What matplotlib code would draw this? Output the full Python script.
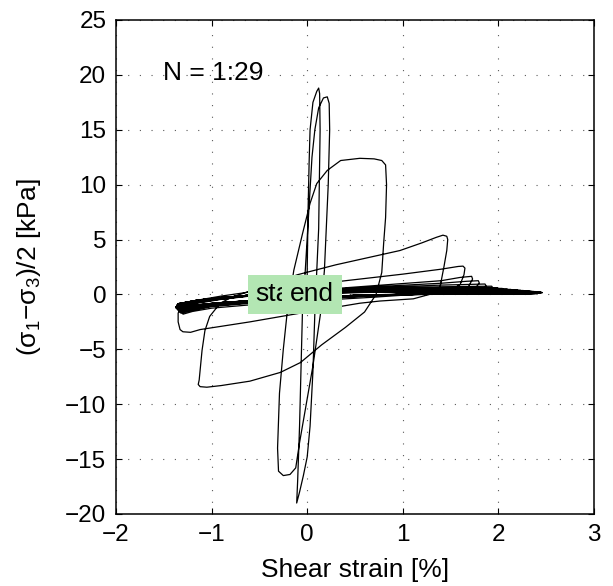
import matplotlib
matplotlib.use("Agg")
import matplotlib.pyplot as plt
import numpy as np

plt.rcParams['font.family'] = ['Liberation Sans', 'DejaVu Sans']
plt.rcParams['mathtext.fontset'] = 'custom'
plt.rcParams['mathtext.rm'] = 'Liberation Sans'
plt.rcParams['mathtext.it'] = 'Liberation Sans'
plt.rcParams['mathtext.bf'] = 'Liberation Sans'

# ---------------- data ----------------
x_ticks = [-2, -1, 0, 1, 2, 3]
y_ticks = [-20, -15, -10, -5, 0, 5, 10, 15, 20, 25]

# early stiff cycles
c01_strain = [0.00, 0.00, 0.01, 0.02, 0.03, 0.06, 0.10, 0.12, 0.13, 0.135, 0.13, 0.12, 0.10, 0.08, 0.06, 0.03, 0.00, -0.04, -0.08, -0.11]
c01_stress = [0.0, 2.2, 8.0, 12.0, 15.0, 17.5, 18.5, 18.8, 18.3, 15.0, 12.0, 6.0, 2.2, -1.7, -7.0, -12.0, -14.8, -16.5, -18.0, -19.0]
c02_strain = [-0.11, -0.10, -0.08, -0.06, -0.05, -0.02, 0.02, 0.05, 0.08, 0.12, 0.17, 0.21, 0.23, 0.235, 0.22, 0.19, 0.18, 0.14, 0.06, -0.02, -0.08, -0.12, -0.18, -0.25, -0.30]
c02_stress = [-19.0, -17.0, -12.0, -5.0, -1.7, 2.2, 8.0, 12.5, 15.0, 17.0, 17.9, 18.0, 17.4, 15.0, 10.0, 4.0, 2.2, -1.7, -6.5, -10.5, -13.5, -15.8, -16.4, -16.5, -16.1]
c03_strain = [-0.30, -0.31, -0.29, -0.25, -0.21, -0.14, -0.05, 0.03, 0.10, 0.21, 0.35, 0.55, 0.70, 0.78, 0.82, 0.83, 0.82, 0.80, 0.78, 0.72, 0.60, 0.40, 0.15, -0.07, -0.28, -0.60, -0.90, -1.05, -1.12]
c03_stress = [-16.1, -14.0, -9.0, -5.0, -1.7, 2.2, 5.5, 8.3, 10.1, 11.3, 12.2, 12.4, 12.35, 12.2, 11.8, 10.0, 7.0, 4.7, 2.0, 0.0, -1.6, -3.0, -4.6, -6.2, -7.1, -7.9, -8.3, -8.45, -8.4]
c04_strain = [-1.12, -1.14, -1.13, -1.10, -1.07, -1.02, -0.91, -0.80, -0.67, -0.40, -0.10, 0.30, 0.97, 1.20, 1.35, 1.42, 1.46, 1.47, 1.46, 1.43, 1.39, 1.32, 1.11, 0.76, 0.55, -0.07, -0.60, -1.12, -1.22, -1.30, -1.33]
c04_stress = [-8.4, -8.2, -7.8, -5.1, -3.3, -2.0, -0.8, -0.3, 0.1, 0.9, 1.8, 2.7, 4.0, 4.7, 5.2, 5.4, 5.3, 5.0, 4.0, 2.5, 0.7, 0.1, -0.4, -0.6, -0.8, -1.7, -2.5, -3.2, -3.45, -3.4, -3.2]
c05_strain = [-1.33, -1.35, -1.35, -1.31, -1.20, -0.90, -0.50, 0.00, 0.50, 1.00, 1.40, 1.58, 1.63, 1.65, 1.64, 1.60, 1.50, 1.20, 0.70, 0.00, -0.60, -1.00, -1.20, -1.30]
c05_stress = [-3.2, -2.5, -1.7, -1.0, -0.6, -0.15, 0.35, 0.85, 1.35, 1.85, 2.3, 2.55, 2.58, 2.4, 1.8, 0.9, 0.4, 0.05, -0.25, -0.6, -0.95, -1.25, -1.55, -1.80]

# later cycles (liquefied state)
c06_strain = [-1.30, -1.28, -1.15, -0.90, -0.50, 0.00, 0.70, 1.40, 1.60, 1.72, 1.73, 1.68, 1.40, 0.70, 0.00, -0.60, -1.00, -1.22]
c06_stress = [-1.80, -1.30, -0.80, -0.45, -0.05, 0.35, 0.80, 1.25, 1.55, 1.65, 1.40, 0.60, 0.20, -0.12, -0.45, -0.80, -1.10, -1.48]
c07_strain = [-1.32, -1.30, -1.15, -0.90, -0.50, 0.00, 0.70, 1.40, 1.67, 1.79, 1.80, 1.75, 1.40, 0.70, 0.00, -0.60, -1.00, -1.22]
c07_stress = [-1.72, -1.25, -0.75, -0.42, -0.03, 0.32, 0.70, 1.02, 1.20, 1.25, 1.05, 0.45, 0.15, -0.10, -0.42, -0.76, -1.06, -1.44]
c08_strain = [-1.33, -1.31, -1.15, -0.90, -0.50, 0.00, 0.70, 1.40, 1.74, 1.86, 1.87, 1.82, 1.40, 0.70, 0.00, -0.60, -1.00, -1.22]
c08_stress = [-1.65, -1.20, -0.72, -0.40, -0.02, 0.30, 0.62, 0.85, 0.93, 0.95, 0.80, 0.35, 0.12, -0.08, -0.40, -0.74, -1.03, -1.40]
c09_strain = [-1.33, -1.31, -1.15, -0.90, -0.50, 0.00, 0.70, 1.40, 1.81, 1.93, 1.94, 1.88, 1.40, 0.70, 0.00, -0.60, -1.00, -1.22]
c09_stress = [-1.60, -1.15, -0.70, -0.38, -0.01, 0.28, 0.56, 0.70, 0.74, 0.75, 0.62, 0.28, 0.10, -0.07, -0.38, -0.72, -1.00, -1.36]
c10_strain = [-1.34, -1.32, -1.15, -0.90, -0.50, 0.00, 0.70, 1.40, 1.87, 1.99, 2.00, 1.94, 1.40, 0.70, 0.00, -0.60, -1.00, -1.22]
c10_stress = [-1.55, -1.10, -0.68, -0.37, 0.00, 0.27, 0.50, 0.60, 0.62, 0.62, 0.52, 0.24, 0.08, -0.06, -0.36, -0.70, -0.98, -1.32]
c11_strain = [-1.34, -1.32, -1.15, -0.90, -0.50, 0.00, 0.70, 1.40, 1.92, 2.04, 2.05, 1.99, 1.40, 0.70, 0.00, -0.60, -1.00, -1.22]
c11_stress = [-1.50, -1.06, -0.66, -0.36, 0.00, 0.25, 0.46, 0.54, 0.55, 0.55, 0.46, 0.21, 0.07, -0.06, -0.35, -0.68, -0.96, -1.29]
c12_strain = [-1.35, -1.33, -1.15, -0.90, -0.50, 0.00, 0.70, 1.40, 1.97, 2.09, 2.10, 2.04, 1.40, 0.70, 0.00, -0.60, -1.00, -1.22]
c12_stress = [-1.45, -1.03, -0.64, -0.35, 0.00, 0.24, 0.43, 0.49, 0.50, 0.50, 0.42, 0.19, 0.06, -0.05, -0.34, -0.67, -0.94, -1.26]
c13_strain = [-1.35, -1.33, -1.15, -0.90, -0.50, 0.00, 0.70, 1.40, 2.01, 2.13, 2.14, 2.08, 1.40, 0.70, 0.00, -0.60, -1.00, -1.22]
c13_stress = [-1.42, -1.00, -0.62, -0.34, 0.00, 0.23, 0.40, 0.45, 0.46, 0.46, 0.39, 0.17, 0.05, -0.05, -0.33, -0.66, -0.93, -1.23]
c14_strain = [-1.35, -1.33, -1.15, -0.90, -0.50, 0.00, 0.70, 1.40, 2.05, 2.17, 2.18, 2.12, 1.40, 0.70, 0.00, -0.60, -1.00, -1.22]
c14_stress = [-1.38, -0.98, -0.61, -0.33, 0.00, 0.22, 0.38, 0.42, 0.42, 0.42, 0.36, 0.16, 0.05, -0.04, -0.32, -0.65, -0.92, -1.21]
c15_strain = [-1.36, -1.34, -1.15, -0.90, -0.50, 0.00, 0.70, 1.40, 2.08, 2.20, 2.21, 2.15, 1.40, 0.70, 0.00, -0.60, -1.00, -1.22]
c15_stress = [-1.35, -0.96, -0.60, -0.33, 0.00, 0.21, 0.36, 0.40, 0.40, 0.40, 0.34, 0.15, 0.04, -0.04, -0.31, -0.64, -0.91, -1.19]
c16_strain = [-1.36, -1.34, -1.15, -0.90, -0.50, 0.00, 0.70, 1.40, 2.11, 2.23, 2.24, 2.18, 1.40, 0.70, 0.00, -0.60, -1.00, -1.22]
c16_stress = [-1.32, -0.94, -0.59, -0.32, 0.00, 0.20, 0.34, 0.38, 0.38, 0.38, 0.32, 0.14, 0.04, -0.04, -0.30, -0.63, -0.90, -1.17]
c17_strain = [-1.36, -1.34, -1.15, -0.90, -0.50, 0.00, 0.70, 1.40, 2.14, 2.26, 2.27, 2.21, 1.40, 0.70, 0.00, -0.60, -1.00, -1.22]
c17_stress = [-1.30, -0.93, -0.58, -0.32, 0.00, 0.19, 0.32, 0.36, 0.36, 0.36, 0.30, 0.13, 0.03, -0.04, -0.30, -0.62, -0.89, -1.15]
c18_strain = [-1.36, -1.34, -1.15, -0.90, -0.50, 0.00, 0.70, 1.40, 2.17, 2.29, 2.30, 2.24, 1.40, 0.70, 0.00, -0.60, -1.00, -1.22]
c18_stress = [-1.28, -0.92, -0.57, -0.31, 0.00, 0.18, 0.30, 0.34, 0.34, 0.34, 0.28, 0.12, 0.03, -0.03, -0.29, -0.61, -0.88, -1.13]
c19_strain = [-1.37, -1.35, -1.15, -0.90, -0.50, 0.00, 0.70, 1.40, 2.19, 2.31, 2.32, 2.26, 1.40, 0.70, 0.00, -0.60, -1.00, -1.22]
c19_stress = [-1.26, -0.91, -0.56, -0.31, 0.00, 0.17, 0.29, 0.32, 0.32, 0.32, 0.27, 0.12, 0.03, -0.03, -0.29, -0.60, -0.87, -1.11]
c20_strain = [-1.37, -1.35, -1.15, -0.90, -0.50, 0.00, 0.70, 1.40, 2.21, 2.33, 2.34, 2.28, 1.40, 0.70, 0.00, -0.60, -1.00, -1.22]
c20_stress = [-1.24, -0.90, -0.56, -0.31, 0.00, 0.17, 0.28, 0.30, 0.30, 0.30, 0.25, 0.11, 0.03, -0.03, -0.28, -0.60, -0.86, -1.10]
c21_strain = [-1.37, -1.35, -1.15, -0.90, -0.50, 0.00, 0.70, 1.40, 2.23, 2.35, 2.36, 2.30, 1.40, 0.70, 0.00, -0.60, -1.00, -1.22]
c21_stress = [-1.22, -0.89, -0.55, -0.30, 0.00, 0.16, 0.26, 0.28, 0.28, 0.28, 0.24, 0.11, 0.02, -0.03, -0.28, -0.59, -0.85, -1.08]
c22_strain = [-1.37, -1.35, -1.15, -0.90, -0.50, 0.00, 0.70, 1.40, 2.25, 2.37, 2.38, 2.32, 1.40, 0.70, 0.00, -0.60, -1.00, -1.22]
c22_stress = [-1.20, -0.88, -0.55, -0.30, 0.00, 0.16, 0.25, 0.27, 0.27, 0.27, 0.23, 0.10, 0.02, -0.03, -0.27, -0.58, -0.84, -1.07]
c23_strain = [-1.37, -1.35, -1.15, -0.90, -0.50, 0.00, 0.70, 1.40, 2.27, 2.39, 2.40, 2.34, 1.40, 0.70, 0.00, -0.60, -1.00, -1.22]
c23_stress = [-1.18, -0.87, -0.54, -0.30, 0.00, 0.15, 0.24, 0.26, 0.26, 0.26, 0.22, 0.10, 0.02, -0.03, -0.27, -0.58, -0.84, -1.06]
c24_strain = [-1.37, -1.35, -1.15, -0.90, -0.50, 0.00, 0.70, 1.40, 2.28, 2.40, 2.41, 2.35, 1.40, 0.70, 0.00, -0.60, -1.00, -1.22]
c24_stress = [-1.16, -0.86, -0.54, -0.29, 0.00, 0.15, 0.23, 0.25, 0.25, 0.25, 0.21, 0.09, 0.02, -0.03, -0.26, -0.57, -0.83, -1.05]
c25_strain = [-1.37, -1.35, -1.15, -0.90, -0.50, 0.00, 0.70, 1.40, 2.29, 2.41, 2.42, 2.36, 1.40, 0.70, 0.00, -0.60, -1.00, -1.22]
c25_stress = [-1.15, -0.86, -0.53, -0.29, 0.00, 0.14, 0.22, 0.24, 0.24, 0.24, 0.20, 0.09, 0.02, -0.02, -0.26, -0.57, -0.83, -1.04]
c26_strain = [-1.37, -1.35, -1.15, -0.90, -0.50, 0.00, 0.70, 1.40, 2.30, 2.42, 2.43, 2.37, 1.40, 0.70, 0.00, -0.60, -1.00, -1.22]
c26_stress = [-1.14, -0.85, -0.53, -0.29, 0.00, 0.14, 0.21, 0.23, 0.23, 0.23, 0.19, 0.09, 0.02, -0.02, -0.26, -0.56, -0.82, -1.03]
c27_strain = [-1.37, -1.35, -1.15, -0.90, -0.50, 0.00, 0.70, 1.40, 2.31, 2.43, 2.44, 2.38, 1.40, 0.70, 0.00, -0.60, -1.00, -1.22]
c27_stress = [-1.13, -0.85, -0.53, -0.29, 0.00, 0.13, 0.20, 0.22, 0.22, 0.22, 0.18, 0.08, 0.01, -0.02, -0.25, -0.56, -0.82, -1.02]
c28_strain = [-1.37, -1.35, -1.15, -0.90, -0.50, 0.00, 0.70, 1.40, 2.32, 2.44, 2.45, 2.39, 1.40, 0.70, 0.00, -0.60, -1.00, -1.22]
c28_stress = [-1.12, -0.84, -0.52, -0.28, 0.00, 0.13, 0.20, 0.21, 0.21, 0.21, 0.17, 0.08, 0.01, -0.02, -0.25, -0.55, -0.81, -1.01]
c29_strain = [-1.37, -1.35, -1.15, -0.90, -0.50, 0.00, 0.70, 1.40, 2.33, 2.45, 2.46, 2.40, 1.40, 0.70, 0.00]
c29_stress = [-1.11, -0.84, -0.52, -0.28, 0.00, 0.13, 0.19, 0.20, 0.20, 0.20, 0.16, 0.08, 0.01, -0.02, -0.25]

cycle_strains = [c01_strain, c02_strain, c03_strain, c04_strain, c05_strain, c06_strain,
                 c07_strain, c08_strain, c09_strain, c10_strain, c11_strain, c12_strain,
                 c13_strain, c14_strain, c15_strain, c16_strain, c17_strain, c18_strain,
                 c19_strain, c20_strain, c21_strain, c22_strain, c23_strain, c24_strain,
                 c25_strain, c26_strain, c27_strain, c28_strain, c29_strain]
cycle_stresses = [c01_stress, c02_stress, c03_stress, c04_stress, c05_stress, c06_stress,
                  c07_stress, c08_stress, c09_stress, c10_stress, c11_stress, c12_stress,
                  c13_stress, c14_stress, c15_stress, c16_stress, c17_stress, c18_stress,
                  c19_stress, c20_stress, c21_stress, c22_stress, c23_stress, c24_stress,
                  c25_stress, c26_stress, c27_stress, c28_stress, c29_stress]

label_text = "N = 1:29"
start_label = "start"
end_label = "end"

# ---------------- figure ----------------
W, H = 613, 586
fig = plt.figure(figsize=(W / 100, H / 100), dpi=100)
ax = fig.add_axes([116 / W, 72 / H, 478 / W, 494 / H])

strain_all = np.concatenate([np.asarray(s, float) for s in cycle_strains])
stress_all = np.concatenate([np.asarray(s, float) for s in cycle_stresses])
ax.plot(strain_all, stress_all, color='black', lw=0.9, solid_joinstyle='round', zorder=3)

ax.set_xlim(-2, 3)
ax.set_ylim(-20, 25)
ax.set_xticks(x_ticks)
ax.set_yticks(y_ticks)
ax.tick_params(direction='in', length=4, width=0.8, top=True, right=True,
               labelsize=17.5, pad=7)
for sp in ax.spines.values():
    sp.set_linewidth(1.1)

ax.grid(True, color='0.35', linestyle=(0, (1, 9.5)), linewidth=0.8)
ax.set_axisbelow(True)

ax.set_xlabel("Shear strain [%]", fontsize=19, labelpad=9)
ax.set_ylabel(r"($\mathregular{\sigma_1}$$-$$\mathregular{\sigma_3}$)/2 [kPa]", fontsize=19, labelpad=16)

ax.text(-1.51, 20.2, label_text, fontsize=19, ha='left', va='center', zorder=5)
box = dict(facecolor='#b3e6b3', edgecolor='none', boxstyle='square,pad=0.3')
ax.text(-0.54, 0.0, start_label, fontsize=19, ha='left', va='center', bbox=box, zorder=6)
ax.text(-0.18, 0.0, end_label, fontsize=19, ha='left', va='center', bbox=box, zorder=7)

fig.savefig("out.png", dpi=100)
